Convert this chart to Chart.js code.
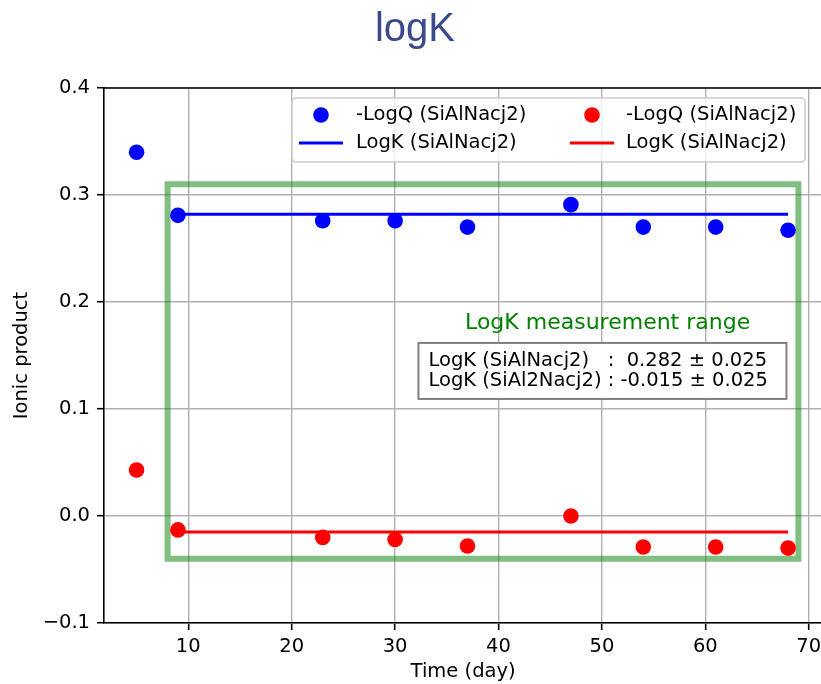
<!DOCTYPE html>
<html>
<head>
<meta charset="utf-8">
<script src="https://cdn.jsdelivr.net/npm/chart.js@4.4.1/dist/chart.umd.min.js"></script>
<style>
  html, body { margin: 0; padding: 0; background: #fff; overflow: hidden; }
  #wrap { width: 821px; height: 684px; overflow: hidden; }
</style>
</head>
<body>
<div id="wrap"><canvas id="chartCanvas" width="830" height="684"></canvas></div>
<script>
// data
const days = [5, 9, 23, 30, 37, 47, 54, 61, 68];
const logQ1 = [0.340, 0.281, 0.276, 0.276, 0.270, 0.291, 0.270, 0.270, 0.267];
const logQ2 = [0.043, -0.013, -0.020, -0.022, -0.028, 0.000, -0.029, -0.029, -0.030];
const logK = [0.282, -0.015];
const logKErr = 0.025;
const fitDays = [9, 68];
const rangeDays = [8, 69];
const rangeY = [-0.04, 0.31];
const xTicks = [10, 20, 30, 40, 50, 60, 70];
const yTicks = [-0.1, 0, 0.1, 0.2, 0.3, 0.4];
const xLimits = [1.85, 71.3];
const yLimits = [-0.1, 0.4];
const seriesLabels = ["-LogQ (SiAlNacj2)", "-LogQ (SiAlNacj2)", "LogK (SiAlNacj2)", "LogK (SiAlNacj2)"];
const boxLabels = ["LogK (SiAlNacj2)   :  ", "LogK (SiAl2Nacj2) : "];

const FONT = "DejaVu Sans";
const FS = 19.5;

const pts = (xs, ys) => xs.map((x, i) => ({ x: x, y: ys[i] }));

// легенда и подписи рисуются вручную поверх графика
const overlay = {
  id: "overlay",
  afterDatasetsDraw(chart) {
    const { ctx, chartArea: a, scales } = chart;
    const ds = chart.data.datasets;
    ctx.save();

    // верхняя рамка
    ctx.strokeStyle = "#000";
    ctx.lineWidth = 1.6;
    ctx.beginPath();
    ctx.moveTo(a.left, a.top);
    ctx.lineTo(a.right, a.top);
    ctx.stroke();

    // текст диапазона
    ctx.font = `22px "${FONT}"`;
    ctx.fillStyle = "#008000";
    ctx.textAlign = "center";
    ctx.textBaseline = "middle";
    ctx.fillText("LogK measurement range", scales.x.getPixelForValue(50.55), scales.y.getPixelForValue(0.18));

    // рамка со значениями
    const cx = scales.x.getPixelForValue(50.05);
    const cy = scales.y.getPixelForValue(0.1365);
    ctx.fillStyle = "#fff";
    ctx.fillRect(cx - 184, cy - 27, 368, 56);
    ctx.strokeStyle = "#808080";
    ctx.lineWidth = 2;
    ctx.strokeRect(cx - 184, cy - 27, 368, 56);
    ctx.font = `${FS}px "${FONT}"`;
    ctx.fillStyle = "#000";
    ctx.textAlign = "left";
    ctx.textBaseline = "alphabetic";
    logK.forEach((v, i) => {
      const txt = boxLabels[i] + `${v.toFixed(3)} ± ${logKErr.toFixed(3)}`;
      ctx.fillText(txt, cx - 174, cy - 4 + i * 20);
    });

    // легенда
    const lx = a.left + 188, ly = a.top + 10, lw = 513, lh = 64;
    ctx.fillStyle = "rgba(255,255,255,0.8)";
    ctx.strokeStyle = "#cccccc";
    ctx.lineWidth = 1.6;
    ctx.beginPath();
    ctx.roundRect(lx, ly, lw, lh, 4);
    ctx.fill();
    ctx.stroke();
    const cols = [[0, 2], [1, 3]];
    const colX = [lx + 29, lx + 300];
    const textX = [lx + 64, lx + 334];
    const rowY = [ly + 17, ly + 45];
    ctx.font = `${FS}px "${FONT}"`;
    ctx.textBaseline = "middle";
    cols.forEach((col, c) => {
      col.forEach((di, r) => {
        const d = ds[di];
        if (d.pointRadius > 0) {
          ctx.fillStyle = d.backgroundColor;
          ctx.beginPath();
          ctx.arc(colX[c], rowY[r], d.pointRadius, 0, Math.PI * 2);
          ctx.fill();
        } else {
          ctx.strokeStyle = d.borderColor;
          ctx.lineWidth = d.borderWidth;
          ctx.beginPath();
          ctx.moveTo(colX[c] - 22, rowY[r]);
          ctx.lineTo(colX[c] + 22, rowY[r]);
          ctx.stroke();
        }
        ctx.fillStyle = "#000";
        ctx.fillText(d.label, textX[c], rowY[r]);
      });
    });
    ctx.restore();
  },
};

const ctx = document.getElementById("chartCanvas").getContext("2d");
new Chart(ctx, {
  type: "scatter",
  data: {
    datasets: [
      {
        label: seriesLabels[0],
        data: pts(days, logQ1),
        backgroundColor: "#0000ff",
        borderWidth: 0,
        pointRadius: 7.8,
        order: 1,
      },
      {
        label: seriesLabels[1],
        data: pts(days, logQ2),
        backgroundColor: "#ff0000",
        borderWidth: 0,
        pointRadius: 7.8,
        order: 1,
      },
      {
        label: seriesLabels[2],
        data: pts(fitDays, [logK[0], logK[0]]),
        showLine: true,
        borderColor: "#0000ff",
        borderWidth: 2.9,
        pointRadius: 0,
        order: 2,
      },
      {
        label: seriesLabels[3],
        data: pts(fitDays, [logK[1], logK[1]]),
        showLine: true,
        borderColor: "#ff0000",
        borderWidth: 2.9,
        pointRadius: 0,
        order: 2,
      },
      {
        label: "range",
        data: pts(
          [rangeDays[0], rangeDays[0], rangeDays[1], rangeDays[1], rangeDays[0], rangeDays[0]],
          [rangeY[0], rangeY[1], rangeY[1], rangeY[0], rangeY[0], rangeY[1]]
        ),
        showLine: true,
        borderColor: "rgba(0,128,0,0.5)",
        borderWidth: 6,
        borderJoinStyle: "miter",
        pointRadius: 0,
        order: 3,
      },
    ],
  },
  options: {
    responsive: false,
    animation: false,
    devicePixelRatio: 1,
    layout: { padding: { left: 0, right: 0, top: 0, bottom: 0 } },
    plugins: {
      legend: { display: false },
      tooltip: { enabled: false },
      title: {
        display: true,
        text: "logK",
        color: "#3b4a8c",
        font: { family: "Liberation Sans", size: 40, weight: "normal" },
        padding: { top: 6, bottom: 34 },
      },
    },
    scales: {
      x: {
        type: "linear",
        min: xLimits[0],
        max: xLimits[1],
        afterBuildTicks: (s) => { s.ticks = xTicks.map((v) => ({ value: v })); },
        afterFit: (s) => {
          s.height = 61;
        },
        ticks: {
          color: "#000",
          font: { family: FONT, size: FS },
          padding: 5,
          maxRotation: 0,
        },
        grid: { color: "#b0b0b0", lineWidth: 1.4, tickColor: "#000", tickLength: 7, tickWidth: 1.6 },
        border: { color: "#000", width: 1.6 },
        title: {
          display: true,
          text: "Time (day)",
          color: "#000",
          font: { family: FONT, size: FS },
          padding: { top: 0, bottom: 0 },
        },
      },
      y: {
        type: "linear",
        min: yLimits[0],
        max: yLimits[1],
        afterBuildTicks: (s) => { s.ticks = yTicks.map((v) => ({ value: v })); },
        afterFit: (s) => {
          s.width = 104;
          s.paddingTop = 0; s.paddingBottom = 0;
        },
        ticks: {
          color: "#000",
          font: { family: FONT, size: FS },
          padding: 7,
          callback: (v) => (v < 0 ? "\u2212" + Math.abs(v).toFixed(1) : v.toFixed(1)),
        },
        grid: { color: "#b0b0b0", lineWidth: 1.4, tickColor: "#000", tickLength: 7, tickWidth: 1.6 },
        border: { color: "#000", width: 1.6 },
        title: {
          display: true,
          text: "Ionic product",
          color: "#000",
          font: { family: FONT, size: FS },
          padding: { top: 10, bottom: 0 },
        },
      },
    },
  },
  plugins: [overlay],
});
</script>
</body>
</html>
